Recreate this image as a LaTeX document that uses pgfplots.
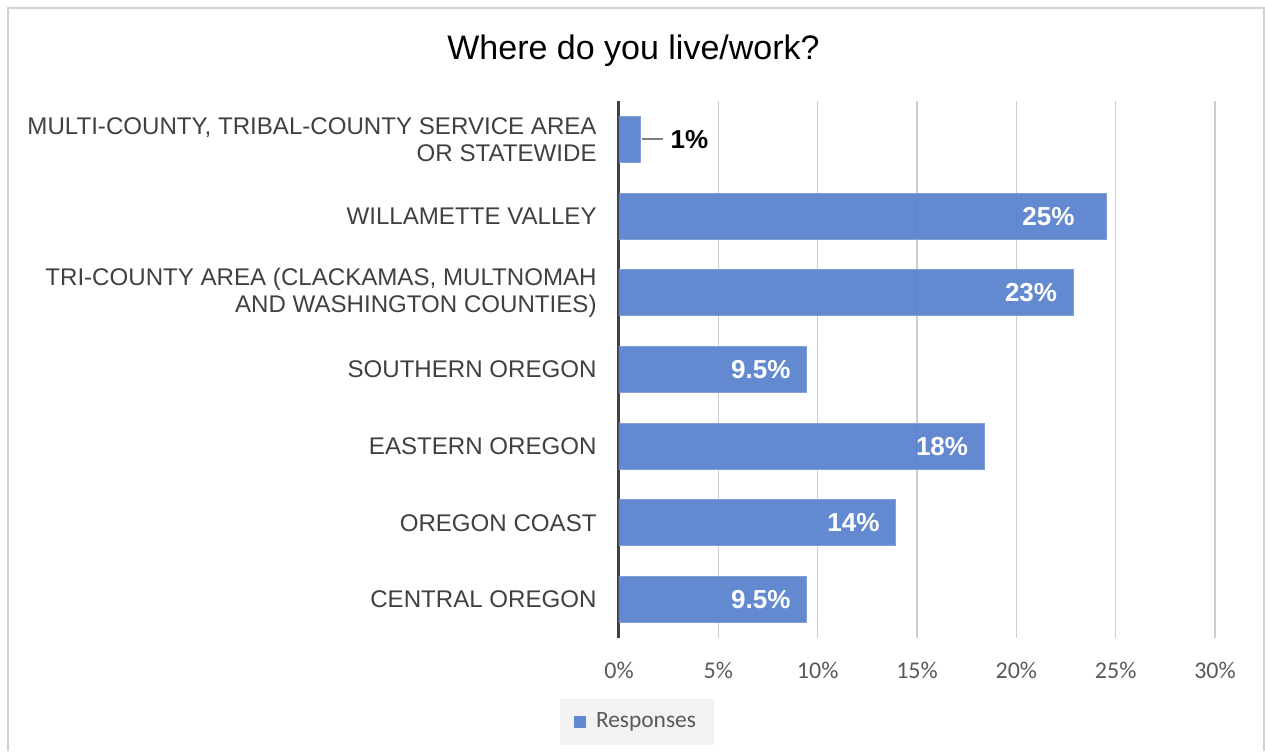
\documentclass[border=0pt]{standalone}
\usepackage{pgfplots}
\pgfplotsset{compat=1.18}
\usepackage{fontspec}
\setmainfont{Liberation Sans}
\newfontfamily\calibri{Carlito}
\definecolor{barblue}{RGB}{91,132,206}
\definecolor{baredge}{RGB}{130,160,215}
\definecolor{gridgray}{RGB}{205,205,205}
\definecolor{axisgray}{RGB}{64,64,64}
\definecolor{labgray}{RGB}{64,64,64}
\definecolor{tickgray}{RGB}{89,89,89}
\definecolor{leggray}{RGB}{242,242,242}
\definecolor{framegray}{RGB}{210,210,210}
\definecolor{leader}{RGB}{128,128,128}
\begin{document}
\begin{tikzpicture}
\path[use as bounding box] (0,0) rectangle (632.5pt,375.5pt);
\draw[framegray, line width=1pt] (4pt,0) -- (4pt,371.5pt) -- (632pt,371.5pt) -- (632pt,0);
\node[font=\fontsize{17}{20}\selectfont, text=black] at (316.75pt,350pt) {Where do you live/work?};
\begin{axis}[
  at={(309.5pt,56.5pt)}, anchor=south west,
  scale only axis, width=298pt, height=268.5pt,
  xbar, bar width=0.6, bar shift=0pt,
  xmin=0, xmax=30, ymin=-0.5, ymax=6.5,
  xtick={0,5,10,15,20,25,30},
  xticklabels={0\%,5\%,10\%,15\%,20\%,25\%,30\%},
  ytick={0,1,2,3,4,5,6},
  yticklabels={{CENTRAL OREGON},{OREGON COAST},{EASTERN OREGON},{SOUTHERN OREGON},{TRI-COUNTY AREA (CLACKAMAS, MULTNOMAH\\AND WASHINGTON COUNTIES)},{WILLAMETTE VALLEY},{MULTI-COUNTY, TRIBAL-COUNTY SERVICE AREA\\OR STATEWIDE}},
  yticklabel style={font=\fontsize{12.05}{13.5}\selectfont, text=labgray, align=right, anchor=east, inner sep=0pt, xshift=-11pt},
  xticklabel style={font=\calibri\fontsize{12}{14}\selectfont, text=tickgray, anchor=center, inner sep=0pt, yshift=-16pt},
  major tick length=0pt,
  axis lines*=left,
  x axis line style={draw=none},
  y axis line style={draw=axisgray, line width=1.5pt, -},
  xmajorgrids, grid style={gridgray, line width=0.75pt},
  point meta=explicit symbolic,
  legend style={at={(0.0302,-0.1564)}, anchor=center, fill=leggray, draw=none,
    font=\calibri\fontsize{11.7}{14}\selectfont, text=tickgray,
    inner xsep=7pt, inner ysep=5pt, legend cell align=left},
  legend image code/.code={\fill[barblue, draw=none] (0pt,-3pt) rectangle (6pt,3pt); \path[draw=none, fill=none] (0pt,0pt) -- (9pt,0pt);},
]
\addplot[fill=barblue, draw=baredge, line width=0.5pt, fill opacity=0.95,
  nodes near coords, every node near coord/.append style={anchor=east, inner sep=0pt, xshift=-8pt, text=white, font=\bfseries\fontsize{13}{15}\selectfont, text opacity=1}]
  coordinates {
  (9.46,0) [9.5\%]
  (13.94,1) [14\%]
  (18.40,2) [18\%]
  (9.46,3) [9.5\%]
  (22.88,4) [23\%]
};
\addlegendentry{Responses}
\addplot[forget plot, fill=barblue, draw=baredge, line width=0.5pt, fill opacity=0.95,
  nodes near coords, every node near coord/.append style={anchor=east, inner sep=0pt, xshift=-16pt, text=white, font=\bfseries\fontsize{13}{15}\selectfont, text opacity=1}]
  coordinates {
  (24.56,5) [25\%]
};
\addplot[forget plot, fill=barblue, draw=baredge, line width=0.5pt, fill opacity=0.95,
  nodes near coords={\textcolor{leader}{\rule[0.33em]{10.5pt}{0.7pt}}\hspace{4pt}\textbf{\pgfplotspointmeta}},
  every node near coord/.append style={anchor=west, xshift=0.5pt, inner sep=0pt, text=black, font=\fontsize{13}{15}\selectfont, text opacity=1}]
  coordinates {
  (1.06,6) [1\%]
};
\end{axis}
\end{tikzpicture}
\end{document}
